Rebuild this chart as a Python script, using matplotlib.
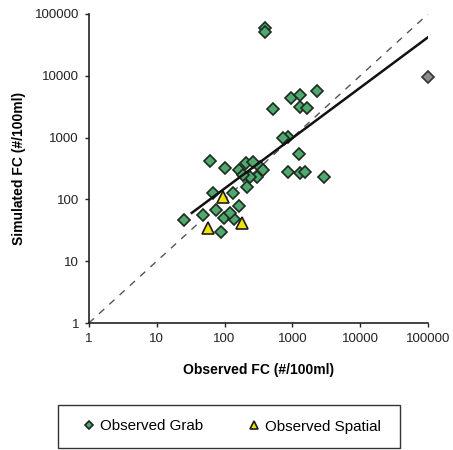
import numpy as np
import matplotlib
matplotlib.use("Agg")
import matplotlib.pyplot as plt
from matplotlib.patches import Rectangle

plt.rcParams['font.family'] = ['Liberation Sans', 'DejaVu Sans']

# Grab samples: observed vs simulated fecal coliform (#/100ml)
grab_obs = [394, 400, 2290, 944, 1290, 1660, 512, 870, 735, 1250, 870, 1290, 1530, 2960,
            62, 101, 163, 207, 264, 333, 372, 297, 216, 134, 67, 163, 75, 47.5, 99,
            137, 25, 88, 1300, 240, 120, 190]
grab_sim = [59000, 52000, 5680, 4330, 3170, 2980, 2870, 1035, 975, 537, 281, 265, 281, 233,
            423, 319, 299, 384, 408, 337, 299, 233, 161, 128, 126, 78, 67, 56, 51,
            48, 46, 30, 4800, 230, 60, 250]

# Spatial samples
spatial_obs = [94, 57.5, 179]
spatial_sim = [108, 35, 41]

# Separate high-concentration sample
outlier_obs = [100000]
outlier_sim = [9500]

# Power-law fit: log10(sim) = slope * log10(obs) + intercept
fit_slope = 0.816
fit_intercept = 0.544
fit_range = [33, 100000]

fig = plt.figure(figsize=(4.53, 4.50), dpi=100)
ax = fig.add_axes([0.196, 0.282, 0.749, 0.687])

ax.plot([1, 100000], [1, 100000], linestyle=(0, (5, 5)), color='#555555', lw=1.0, zorder=1)

fx = np.array(fit_range, dtype=float)
fy = 10 ** (fit_slope * np.log10(fx) + fit_intercept)
ax.plot(fx, fy, color='#111111', lw=1.8, zorder=4)

ax.plot(grab_obs, grab_sim, linestyle='none', marker='D', ms=6.2, mfc='#4fa86d',
        mec='#1c2a20', mew=1.2, zorder=3, label='Observed Grab')
ax.plot(spatial_obs, spatial_sim, linestyle='none', marker='^', ms=9, mfc='#f2e400',
        mec='#1c1c1c', mew=1.2, zorder=3, label='Observed Spatial')
ax.plot(outlier_obs, outlier_sim, linestyle='none', marker='D', ms=6.2, mfc='#8c8c8c',
        mec='#333333', mew=1.2, zorder=3, clip_on=False)

ax.set_xscale('log')
ax.set_yscale('log')
ax.set_xlim(1, 100000)
ax.set_ylim(1, 100000)
ticks = [1, 10, 100, 1000, 10000, 100000]
ax.set_xticks(ticks)
ax.set_yticks(ticks)
ax.set_xticklabels([str(t) for t in ticks])
ax.set_yticklabels([str(t) for t in ticks])
ax.minorticks_off()
ax.tick_params(axis='both', direction='out', length=3, width=1, labelsize=9.5, pad=4,
               colors='#222222')

for s in ['top', 'right']:
    ax.spines[s].set_visible(False)
for s in ['left', 'bottom']:
    ax.spines[s].set_linewidth(1.2)
    ax.spines[s].set_color('#222222')

ax.set_xlabel('Observed FC (#/100ml)', fontsize=10, fontweight='bold', labelpad=13)
ax.set_ylabel('Simulated FC (#/100ml)', fontsize=10, fontweight='bold', labelpad=6)

# Legend entries, with a plain box drawn around them
leg = fig.legend(loc='center', bbox_to_anchor=(0.512, 1 - 426.5 / 450), ncol=2,
                 frameon=False, fontsize=10.9, markerscale=0.65, handlelength=0.8,
                 handletextpad=0.3, columnspacing=3.0)
fig.patches.append(Rectangle((58 / 453, 2 / 450), 342 / 453, 43 / 450,
                             transform=fig.transFigure, fill=False,
                             edgecolor='#333333', linewidth=1.0))

fig.savefig('out.png', dpi=100)
